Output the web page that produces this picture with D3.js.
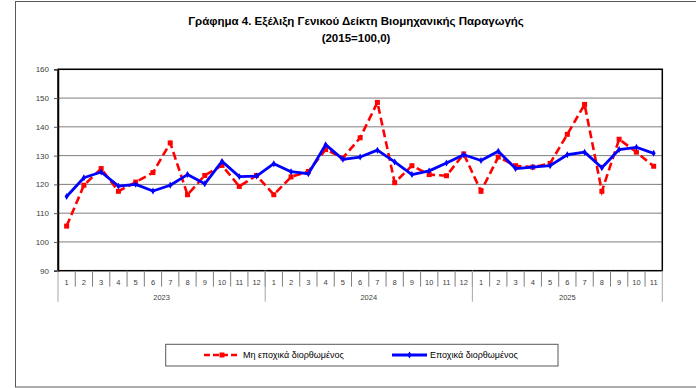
<!DOCTYPE html>
<html>
<head>
<meta charset="utf-8">
<script src="https://cdn.jsdelivr.net/npm/d3@7"></script>
<style>
  body { margin: 0; background: #fff; }
  text { font-family: "Liberation Sans", Arial, sans-serif; }
</style>
</head>
<body>
<div id="chart"></div>
<script>
// Δεδομένα
var years = ["2023", "2024", "2025"]
var monthsPerYear = [12, 12, 11]
var nsaValues = [105.5, 119.7, 125.5, 117.6, 120.8, 124.1, 134.4, 116.4, 123.1, 126.6, 119.3, 123.1,
  116.4, 122.6, 124.5, 132.1, 129.2, 136.2, 148.5, 120.6, 126.5, 123.4, 123.0, 130.6,
  117.6, 129.5, 126.5, 126.0, 127.3, 137.4, 147.8, 117.6, 135.7, 131.2, 126.3]
var saValues = [115.8, 122.3, 124.3, 119.4, 120.0, 117.7, 119.7, 123.4, 120.2, 128.0, 122.7, 122.9,
  127.2, 124.4, 123.7, 133.8, 128.7, 129.5, 131.9, 127.8, 123.4, 124.7, 127.4, 130.3,
  128.3, 131.5, 125.5, 126.0, 126.5, 130.3, 131.2, 125.8, 132.1, 132.9, 130.8]
var yTicks = [90, 100, 110, 120, 130, 140, 150, 160]
var seriesNames = ["Μη εποχικά διορθωμένος", "Εποχικά διορθωμένος"]
var titleLines = ["Γράφημα 4. Εξέλιξη Γενικού Δείκτη Βιομηχανικής Παραγωγής", "(2015=100,0)"]

// Λίστα μηνών
var points = []
years.forEach(function(yr, i) {
  for (var m = 1; m <= monthsPerYear[i]; m++) points.push({ year: yr, month: m, key: yr + "-" + m })
})

var W = 696, H = 388
var plot = { left: 58, right: 662.3, top: 69.3, bottom: 270.7 }

var svg = d3.select("#chart").append("svg")
  .attr("width", W).attr("height", H)

// Εξωτερικό πλαίσιο
svg.append("rect")
  .attr("x", 15.5).attr("y", 1.5)
  .attr("width", 700).attr("height", 385.5)
  .attr("fill", "none").attr("stroke", "#595959").attr("stroke-width", 1)

// Τίτλος
svg.selectAll(".title").data(titleLines).enter().append("text")
  .attr("x", 356).attr("y", function(d, i) { return 25 + i * 17 })
  .attr("text-anchor", "middle")
  .style("font-size", "11.5px").style("font-weight", "bold").attr("fill", "#000")
  .text(function(d) { return d })

var x = d3.scaleBand()
  .domain(points.map(function(d) { return d.key }))
  .range([plot.left, plot.right])

var y = d3.scaleLinear()
  .domain([90, 160])
  .range([plot.bottom, plot.top])

// Γραμμές πλέγματος
svg.append("g").selectAll("line").data(yTicks.slice(1)).enter().append("line")
  .attr("x1", plot.left).attr("x2", plot.right)
  .attr("y1", function(d) { return y(d) }).attr("y2", function(d) { return y(d) })
  .attr("stroke", "#7f7f7f").attr("stroke-width", 1)

// Πλαίσιο περιοχής
svg.append("rect")
  .attr("x", plot.left).attr("y", plot.top)
  .attr("width", plot.right - plot.left).attr("height", plot.bottom - plot.top)
  .attr("fill", "none").attr("stroke", "#000").attr("stroke-width", 1.5)

// Άξονας Υ
var yAxis = svg.append("g")
  .attr("transform", "translate(" + plot.left + ",0)")
  .call(d3.axisLeft(y).tickValues(yTicks).tickSize(4).tickPadding(5))
yAxis.select(".domain").attr("stroke", "#000").attr("stroke-width", 1.5)
yAxis.selectAll(".tick line").attr("stroke", "#595959")
yAxis.selectAll("text").style("font-size", "8px").attr("fill", "#404040")
  .style("font-family", "Liberation Sans, Arial, sans-serif")

// Άξονας Χ: μήνες
var xg = svg.append("g")
xg.selectAll(".mtxt").data(points).enter().append("text")
  .attr("x", function(d) { return x(d.key) + x.bandwidth() / 2 })
  .attr("y", 284.5)
  .attr("text-anchor", "middle")
  .style("font-size", "7.5px").attr("fill", "#404040")
  .text(function(d) { return d.month })

xg.selectAll(".mdiv").data(points.slice(1)).enter().append("line")
  .attr("x1", function(d) { return x(d.key) }).attr("x2", function(d) { return x(d.key) })
  .attr("y1", plot.bottom).attr("y2", 286.7)
  .attr("stroke", "#7f7f7f").attr("stroke-width", 1)

// Διαχωριστικά ετών
var yearEdges = [0]
monthsPerYear.forEach(function(n, i) { yearEdges.push(yearEdges[i] + n) })
xg.selectAll(".ydiv").data(yearEdges).enter().append("line")
  .attr("x1", function(d) { return d < points.length ? x(points[d].key) : plot.right })
  .attr("x2", function(d) { return d < points.length ? x(points[d].key) : plot.right })
  .attr("y1", plot.bottom).attr("y2", 301.7)
  .attr("stroke", "#a6a6a6").attr("stroke-width", 1)

xg.selectAll(".ytxt").data(years).enter().append("text")
  .attr("x", function(d, i) {
    var a = x(points[yearEdges[i]].key)
    var b = yearEdges[i + 1] < points.length ? x(points[yearEdges[i + 1]].key) : plot.right
    return (a + b) / 2
  })
  .attr("y", 299.5)
  .attr("text-anchor", "middle")
  .style("font-size", "7.5px").attr("fill", "#404040")
  .text(function(d) { return d })

// Γραμμές σειρών
var line = d3.line()
  .x(function(d, i) { return x(points[i].key) + x.bandwidth() / 2 })
  .y(function(d) { return y(d) })

svg.append("path").datum(nsaValues)
  .attr("d", line).attr("fill", "none")
  .attr("stroke", "#ff0000").attr("stroke-width", 2.6)
  .attr("stroke-dasharray", "8,4")

svg.selectAll(".nsa").data(nsaValues).enter().append("rect")
  .attr("x", function(d, i) { return x(points[i].key) + x.bandwidth() / 2 - 2.5 })
  .attr("y", function(d) { return y(d) - 2.5 })
  .attr("width", 5).attr("height", 5)
  .attr("fill", "#ff0000")

svg.append("path").datum(saValues)
  .attr("d", line).attr("fill", "none")
  .attr("stroke", "#0000ff").attr("stroke-width", 2.8)
  .attr("stroke-linejoin", "round")

svg.selectAll(".sa").data(saValues).enter().append("path")
  .attr("d", d3.symbol(d3.symbolDiamond, 14))
  .attr("transform", function(d, i) {
    return "translate(" + (x(points[i].key) + x.bandwidth() / 2) + "," + y(d) + ")"
  })
  .attr("fill", "#0000ff")

// Υπόμνημα
var lg = svg.append("g")
lg.append("rect")
  .attr("x", 165.7).attr("y", 344.3).attr("width", 392.3).attr("height", 21.7)
  .attr("fill", "#fff").attr("stroke", "#595959").attr("stroke-width", 1)

lg.append("line").attr("x1", 204).attr("x2", 240).attr("y1", 355).attr("y2", 355)
  .attr("stroke", "#ff0000").attr("stroke-width", 2.6).attr("stroke-dasharray", "6,3")
lg.append("rect").attr("x", 219.5).attr("y", 352.5).attr("width", 5).attr("height", 5).attr("fill", "#ff0000")
lg.append("text").attr("x", 243).attr("y", 358.2)
  .style("font-size", "9px").attr("fill", "#000").text(seriesNames[0])

lg.append("line").attr("x1", 392).attr("x2", 427).attr("y1", 355).attr("y2", 355)
  .attr("stroke", "#0000ff").attr("stroke-width", 2.8)
lg.append("path").attr("d", d3.symbol(d3.symbolDiamond, 14))
  .attr("transform", "translate(409.5,355)").attr("fill", "#0000ff")
lg.append("text").attr("x", 430).attr("y", 358.2)
  .style("font-size", "9px").attr("fill", "#000").text(seriesNames[1])
</script>
</body>
</html>
